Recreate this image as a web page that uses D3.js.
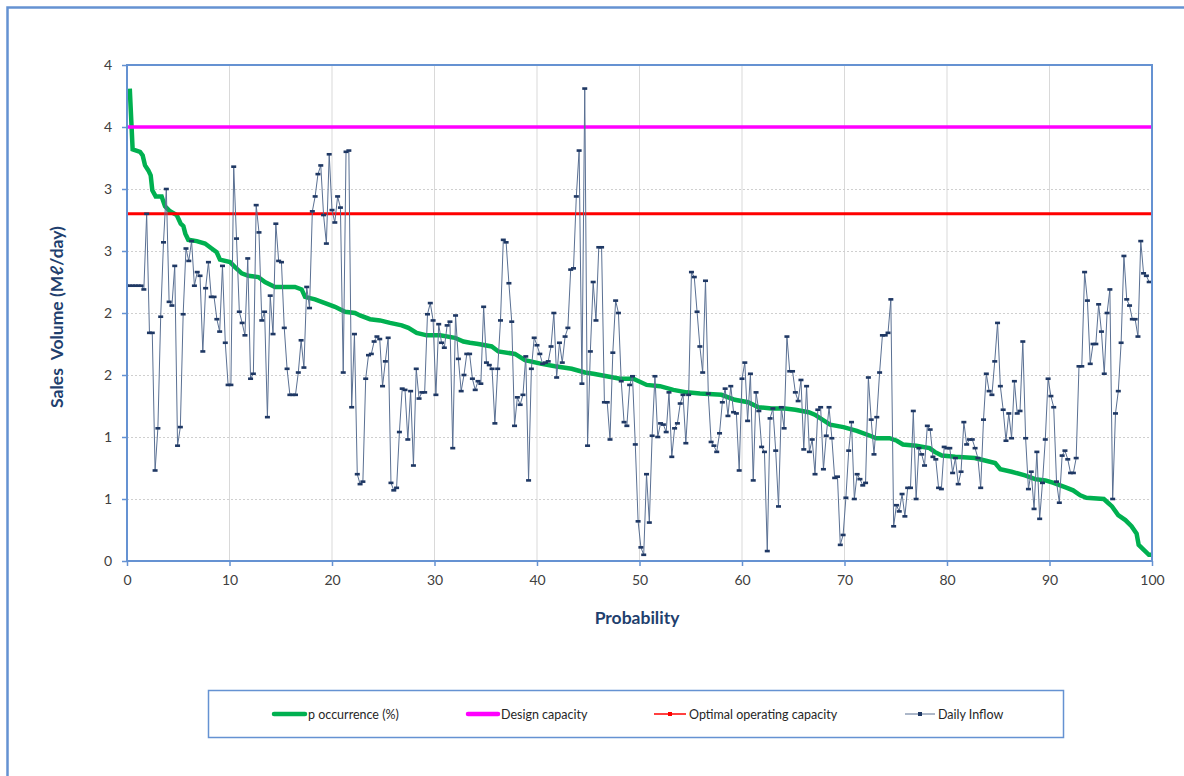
<!DOCTYPE html>
<html>
<head>
<meta charset="utf-8">
<script src="https://cdn.jsdelivr.net/npm/d3@7"></script>
<style>
  html, body { margin: 0; padding: 0; background: #ffffff; }
  svg { display: block; }
  text { font-family: Lato, "Liberation Sans", sans-serif; }
</style>
</head>
<body>
<div id="chart"></div>
<script>
// ---------------- DATA ----------------
const xTickValues = [0, 10, 20, 30, 40, 50, 60, 70, 80, 90, 100];
const xTickLabels = ["0", "10", "20", "30", "40", "50", "60", "70", "80", "90", "100"];
const yTickValues = [0, 0.5, 1, 1.5, 2, 2.5, 3, 3.5, 4];
const yTickLabels = ["0", "1", "1", "2", "2", "3", "3", "4", "4"];

const designCapacity = 3.5;
const optimalCapacity = 2.8;

// p occurrence (%) curve: probability (%) and value
const occurrenceProb = [0.27, 0.55, 1.27, 1.53, 1.76, 2.08, 2.31, 2.47, 2.80, 3.38, 3.71, 4.20, 4.85, 5.24, 5.50, 5.69, 5.98, 6.80, 7.61, 8.26, 8.75, 9.07, 10.05, 10.54, 11.19, 11.84, 12.81, 13.46, 14.44, 16.39, 17.04, 17.37, 18.34, 19.32, 20.29, 21.27, 22.24, 22.73, 23.71, 24.68, 25.66, 26.80, 27.45, 28.26, 29.24, 30.54, 32.0, 32.82, 33.46, 34.28, 35.58, 36.23, 37.85, 38.83, 40.46, 41.76, 43.38, 44.68, 45.5, 46.8, 48.1, 49.4, 50.7, 52.0, 53.3, 54.6, 55.9, 58.0, 59.3, 60.6, 61.6, 62.9, 64.2, 65.2, 66.5, 67.1, 68.6, 69.9, 71.2, 72.5, 73.1, 74.4, 75.1, 75.7, 77.0, 78.3, 78.8, 79.5, 80.8, 82.7, 83.7, 84.7, 85.2, 86.3, 87.6, 88.6, 89.6, 90.4, 91.7, 92.3, 93.0, 93.6, 95.3, 95.7, 96.1, 96.7, 97.4, 98.0, 98.5, 98.7, 99.2, 99.7, 100.0];
const occurrenceValue = [3.81, 3.32, 3.30, 3.27, 3.19, 3.15, 3.11, 2.99, 2.94, 2.94, 2.86, 2.82, 2.79, 2.72, 2.70, 2.64, 2.59, 2.58, 2.56, 2.52, 2.49, 2.43, 2.41, 2.37, 2.32, 2.30, 2.29, 2.25, 2.21, 2.21, 2.19, 2.13, 2.11, 2.08, 2.05, 2.01, 2.00, 1.98, 1.95, 1.94, 1.92, 1.90, 1.88, 1.84, 1.82, 1.82, 1.80, 1.77, 1.76, 1.75, 1.73, 1.69, 1.67, 1.62, 1.59, 1.57, 1.55, 1.52, 1.51, 1.49, 1.47, 1.47, 1.42, 1.41, 1.38, 1.36, 1.35, 1.34, 1.30, 1.28, 1.24, 1.23, 1.23, 1.22, 1.20, 1.18, 1.10, 1.08, 1.05, 1.01, 0.99, 0.99, 0.97, 0.94, 0.93, 0.91, 0.88, 0.85, 0.84, 0.83, 0.81, 0.79, 0.74, 0.72, 0.69, 0.66, 0.65, 0.63, 0.59, 0.57, 0.53, 0.51, 0.50, 0.47, 0.44, 0.37, 0.33, 0.28, 0.22, 0.13, 0.09, 0.05, 0.05];

// Daily inflow, one value per day (365 days spread over 0-100 %)
const dailyInflow = [
  2.22, 2.22, 2.22, 2.22, 2.22, 2.22, 2.19, 2.80, 1.84, 1.84,
  0.73, 1.07, 1.97, 2.57, 3.00, 2.09, 2.06, 2.38, 0.93, 1.08,
  1.99, 2.52, 2.42, 2.58, 2.22, 2.33, 2.30, 1.69, 2.20, 2.41,
  2.13, 2.13, 1.95, 1.85, 2.38, 1.76, 1.42, 1.42, 3.18, 2.60,
  2.01, 1.92, 1.82, 2.44, 1.47, 1.51, 2.87, 2.65, 1.94, 2.01,
  1.16, 2.14, 1.83, 2.72, 2.42, 2.41, 1.88, 1.55, 1.34, 1.34,
  1.34, 1.52, 1.78, 1.56, 2.21, 2.04, 2.82, 2.94, 3.12, 3.19,
  2.79, 2.56, 3.28, 2.83, 2.73, 2.94, 2.85, 1.52, 3.30, 3.31,
  1.24, 1.83, 0.70, 0.62, 0.64, 1.47, 1.66, 1.67, 1.77, 1.81,
  1.79, 1.41, 1.61, 1.80, 0.63, 0.57, 0.59, 1.04, 1.39, 1.38,
  0.98, 1.37, 0.77, 1.55, 1.31, 1.36, 1.36, 1.99, 2.08, 1.94,
  1.34, 1.91, 1.76, 1.72, 1.90, 1.93, 0.91, 1.98, 1.63, 1.37,
  1.50, 1.67, 1.67, 1.47, 1.38, 1.45, 1.43, 2.05, 1.60, 1.58,
  1.55, 1.11, 1.55, 1.94, 2.59, 2.57, 2.24, 1.93, 1.09, 1.32,
  1.26, 1.34, 1.65, 0.65, 1.55, 1.80, 1.74, 1.67, 1.59, 1.60,
  1.61, 1.73, 2.00, 1.48, 1.76, 1.60, 1.81, 1.88, 2.35, 2.36,
  2.94, 3.31, 1.43, 3.81, 0.93, 1.69, 2.25, 1.94, 2.53, 2.53,
  1.28, 1.28, 0.98, 1.68, 2.10, 2.00, 1.45, 1.12, 1.09, 1.42,
  1.49, 0.94, 0.32, 0.11, 0.05, 0.70, 0.31, 1.01, 1.49, 1.00,
  1.11, 1.10, 1.04, 1.36, 0.84, 1.07, 1.11, 1.27, 1.34, 0.95,
  1.34, 2.33, 2.29, 2.01, 1.73, 1.52, 2.26, 1.35, 0.96, 0.93,
  0.88, 1.03, 1.28, 1.39, 1.17, 1.41, 1.20, 1.19, 0.73, 1.47,
  1.60, 1.13, 1.51, 0.65, 1.36, 1.21, 0.92, 0.88, 0.08, 1.15,
  1.23, 0.89, 0.44, 1.24, 1.07, 1.81, 1.53, 1.53, 1.36, 1.29,
  1.46, 0.90, 1.41, 0.88, 0.98, 0.70, 1.22, 1.24, 0.74, 1.01,
  1.24, 0.99, 0.67, 0.68, 0.13, 0.21, 0.51, 0.89, 1.12, 0.50,
  0.70, 0.66, 0.61, 0.63, 1.48, 1.14, 0.86, 1.16, 1.52, 1.82,
  1.82, 1.84, 2.11, 0.28, 0.45, 0.40, 0.54, 0.36, 0.59, 0.59,
  1.21, 0.50, 0.91, 0.86, 0.77, 1.09, 1.06, 0.84, 0.82, 0.59,
  0.58, 0.92, 0.91, 0.91, 0.71, 0.83, 0.62, 0.72, 1.12, 0.94,
  0.98, 0.98, 0.91, 0.83, 0.59, 1.14, 1.51, 1.37, 1.34, 1.61,
  1.92, 1.41, 1.22, 0.97, 1.19, 0.99, 1.45, 1.19, 1.21, 1.77,
  0.99, 0.58, 0.72, 0.42, 0.88, 0.34, 0.63, 0.98, 1.47, 1.33,
  1.24, 0.64, 0.47, 0.85, 0.89, 0.82, 0.71, 0.71, 0.83, 1.57,
  1.57, 2.33, 2.10, 1.59, 1.75, 1.75, 2.07, 1.85, 1.51, 2.00,
  2.19, 0.50, 1.19, 1.37, 1.76, 2.46, 2.11, 2.06, 1.95, 1.95,
  1.81, 2.58, 2.32, 2.30, 2.25
];

const seriesNames = ["p occurrence (%)", "Design capacity", "Optimal operating capacity", "Daily Inflow"];

// ---------------- CHART ----------------
const W = 1184, H = 776;
const plot = { left: 127, right: 1152, top: 65, bottom: 561 };
const colors = {
  occurrence: "#00B050",
  design: "#FF00FF",
  optimal: "#FF0000",
  dailyLine: "#5A7093",
  dailyMarker: "#1F3864",
  frame: "#6592D2",
  axisTitle: "#1F3F6E",
  tickText: "#404040"
};

const svg = d3.select("#chart").append("svg")
  .attr("width", W).attr("height", H);

svg.append("rect").attr("width", W).attr("height", H).attr("fill", "#fff");

// outer chart frame (extends past the visible window at right/bottom)
svg.append("rect")
  .attr("x", 7.5).attr("y", 7.5)
  .attr("width", 1220).attr("height", 820)
  .attr("fill", "none")
  .attr("stroke", colors.frame).attr("stroke-width", 2.5);

const x = d3.scaleLinear().domain([0, 100]).range([plot.left, plot.right]);
const y = d3.scaleLinear().domain([0, 4]).range([plot.bottom, plot.top]);

// gridlines
const grid = svg.append("g");
grid.selectAll("line.vg").data(xTickValues.filter(d => d > 0 && d < 100)).join("line")
  .attr("x1", d => x(d)).attr("x2", d => x(d))
  .attr("y1", plot.top).attr("y2", plot.bottom)
  .attr("stroke", "#D9D9D9").attr("stroke-width", 1);
grid.selectAll("line.hg").data(yTickValues.filter(d => d > 0 && d < 4)).join("line")
  .attr("x1", plot.left).attr("x2", plot.right)
  .attr("y1", d => Math.round(y(d)) + 0.5).attr("y2", d => Math.round(y(d)) + 0.5)
  .attr("stroke", "#CFCFCF").attr("stroke-width", 1)
  .attr("stroke-dasharray", "2,2");

// axes
const xAxis = d3.axisBottom(x)
  .tickValues(xTickValues)
  .tickFormat((d, i) => xTickLabels[i])
  .tickSize(5).tickPadding(9);
const gx = svg.append("g").attr("transform", `translate(0,${plot.bottom})`).call(xAxis);
gx.select(".domain").remove();
gx.selectAll(".tick line").attr("stroke", colors.frame).attr("stroke-width", 1.5);
gx.selectAll(".tick text").attr("font-size", 14).attr("fill", colors.tickText)
  .style("font-family", "Lato, sans-serif");

const yAxis = d3.axisLeft(y)
  .tickValues(yTickValues)
  .tickFormat((d, i) => yTickLabels[i])
  .tickSize(5).tickPadding(10);
const gy = svg.append("g").attr("transform", `translate(${plot.left},0)`).call(yAxis);
gy.select(".domain").remove();
gy.selectAll(".tick line").attr("stroke", colors.frame).attr("stroke-width", 1.5);
gy.selectAll(".tick text").attr("font-size", 14).attr("fill", colors.tickText)
  .style("font-family", "Lato, sans-serif");

// clip
svg.append("clipPath").attr("id", "clip").append("rect")
  .attr("x", plot.left).attr("y", plot.top - 5)
  .attr("width", plot.right - plot.left).attr("height", plot.bottom - plot.top + 5);

const series = svg.append("g").attr("clip-path", "url(#clip)");

// p occurrence curve
const occData = occurrenceProb.map((p, i) => [p, occurrenceValue[i]]);
series.append("path")
  .datum(occData)
  .attr("fill", "none")
  .attr("stroke", colors.occurrence)
  .attr("stroke-width", 4.5)
  .attr("stroke-linejoin", "miter")
  .attr("d", d3.line().x(d => x(d[0])).y(d => y(d[1])));

// design & optimal capacity lines
series.append("line")
  .attr("x1", x(0)).attr("x2", x(100))
  .attr("y1", y(designCapacity)).attr("y2", y(designCapacity))
  .attr("stroke", colors.design).attr("stroke-width", 3.5);
series.append("line")
  .attr("x1", x(0)).attr("x2", x(100))
  .attr("y1", y(optimalCapacity)).attr("y2", y(optimalCapacity))
  .attr("stroke", colors.optimal).attr("stroke-width", 3);

// daily inflow
const n = dailyInflow.length;
const dailyData = dailyInflow.map((v, i) => [i * 100 / n, v]);
series.append("path")
  .datum(dailyData)
  .attr("fill", "none")
  .attr("stroke", colors.dailyLine)
  .attr("stroke-width", 1)
  .attr("d", d3.line().x(d => x(d[0])).y(d => y(d[1])));
series.selectAll("rect.mk").data(dailyData).join("rect")
  .attr("x", d => x(d[0]) - 2.5).attr("y", d => y(d[1]) - 1.3)
  .attr("width", 5).attr("height", 2.6)
  .attr("fill", colors.dailyMarker);

// plot border
svg.append("rect")
  .attr("x", plot.left).attr("y", plot.top)
  .attr("width", plot.right - plot.left).attr("height", plot.bottom - plot.top)
  .attr("fill", "none").attr("stroke", colors.frame).attr("stroke-width", 2);

// axis titles
svg.append("text")
  .attr("x", 637).attr("y", 624)
  .attr("text-anchor", "middle")
  .attr("font-size", 17.5).attr("font-weight", "bold")
  .attr("fill", colors.axisTitle)
  .text("Probability");

svg.append("text")
  .attr("transform", `translate(63,317) rotate(-90)`)
  .attr("text-anchor", "middle")
  .attr("font-size", 17.5).attr("font-weight", "bold")
  .attr("fill", colors.axisTitle)
  .attr("xml:space", "preserve")
  .style("white-space", "pre")
  .text("Sales  Volume (M\u2113/day)");

// legend
const legend = svg.append("g");
legend.append("rect")
  .attr("x", 208.5).attr("y", 690.5).attr("width", 855).attr("height", 47)
  .attr("fill", "#fff").attr("stroke", colors.frame).attr("stroke-width", 1.5);

const legendItems = [
  { name: seriesNames[0], x1: 274, x2: 305, color: colors.occurrence, w: 4.5, cap: "round", marker: null },
  { name: seriesNames[1], x1: 468, x2: 498, color: colors.design, w: 4.5, cap: "round", marker: null },
  { name: seriesNames[2], x1: 654, x2: 686, color: colors.optimal, w: 1.5, cap: "butt", marker: colors.optimal },
  { name: seriesNames[3], x1: 905, x2: 935, color: colors.dailyLine, w: 1, cap: "butt", marker: colors.dailyMarker }
];
const ly = 714;
const li = legend.selectAll("g.item").data(legendItems).join("g");
li.append("line")
  .attr("x1", d => d.x1).attr("x2", d => d.x2)
  .attr("y1", ly).attr("y2", ly)
  .attr("stroke", d => d.color).attr("stroke-width", d => d.w)
  .attr("stroke-linecap", d => d.cap);
li.filter(d => d.marker).append("rect")
  .attr("x", d => (d.x1 + d.x2) / 2 - 2).attr("y", ly - 2)
  .attr("width", 4).attr("height", 4)
  .attr("fill", d => d.marker);
li.append("text")
  .attr("x", d => d.x2 + 3).attr("y", ly + 4.5)
  .attr("font-size", 12.5).attr("fill", "#262626")
  .text(d => d.name);
</script>
</body>
</html>
